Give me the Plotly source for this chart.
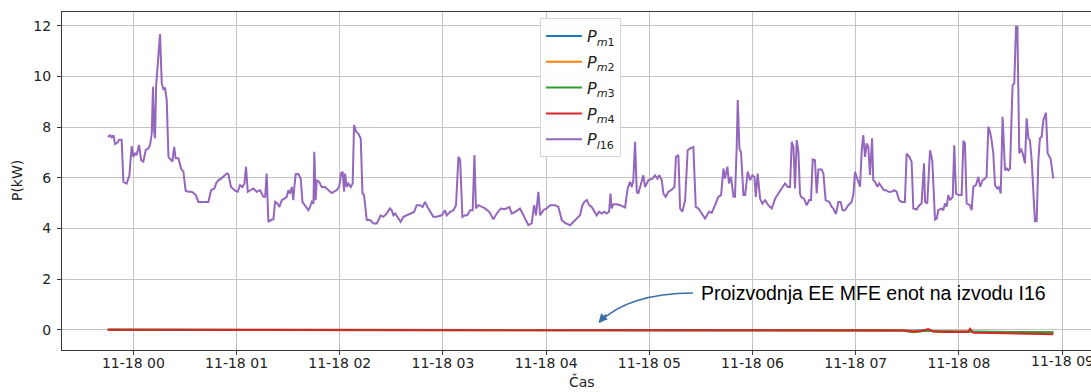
import datetime as dt
import plotly.graph_objects as go

# ---- data (minutes relative to 11-18 00:00, values in kW) ----
p_i16_min = [
    -14.9, -13.5, -12.6, -11.6, -10.6, -9.1, -8.3, -6.8, -5.8, -3.9, -2.3, -1.0, 0.0, 1.0, 1.9, 3.3, 4.5, 5.8,
    7.2, 8.7, 9.7, 10.7, 11.4, 12.0, 12.6, 13.2, 14.2, 15.5, 16.5, 17.5, 18.4, 19.4, 20.4, 21.9, 22.7, 23.7,
    24.6, 26.2, 27.7, 29.1, 30.4, 32.0, 33.9, 35.3, 36.4, 37.8, 40.7, 43.6, 45.2, 47.1, 48.1, 49.4, 51.0, 52.3,
    54.3, 55.2, 56.8, 59.1, 60.7, 62.0, 63.4, 64.6, 65.5, 66.5, 67.8, 69.8, 71.7, 73.7, 75.6, 76.6, 77.5, 78.5,
    80.4, 81.4, 82.4, 83.9, 84.9, 86.3, 87.8, 89.2, 90.1, 91.1, 92.1, 93.0, 93.6, 94.4, 95.9, 97.3, 98.3, 99.8,
    101.8, 102.7, 103.7, 104.7, 105.2, 106.0, 106.6, 108.0, 109.5, 111.4, 113.4, 115.3,
    118.2, 119.6, 120.8, 121.7, 122.5, 123.1, 124.0, 125.0, 126.4, 127.5, 128.3, 129.5, 130.8, 132.2, 133.2,
    134.1, 135.7, 137.6, 139.6, 141.5, 143.8, 145.4, 147.3, 149.2, 150.2, 151.2, 152.2, 154.1, 155.4, 157.0,
    158.9, 161.8, 163.2, 164.7, 166.7, 168.2, 169.6, 171.0, 172.5, 174.4, 176.4, 179.3, 181.2, 182.2, 184.1,
    186.1, 187.6, 189.0, 190.0, 191.3, 192.9, 194.2, 195.8, 197.3, 198.3, 199.2, 200.6, 202.5, 204.5, 207.0,
    209.3, 211.3, 213.6, 216.1, 218.6, 220.0, 221.9, 224.8, 226.8, 229.7, 231.6, 233.0, 234.1, 235.5, 236.5,
    238.4, 240.3, 242.3, 245.2, 247.1, 249.1,
    251.0, 253.9, 255.8, 257.8, 259.7, 261.1, 262.2, 263.6, 265.0, 266.5, 268.1, 269.4, 270.8, 272.3, 273.9,
    275.2, 276.6, 277.4, 278.1, 279.1, 281.0, 283.0, 285.9, 287.4, 288.8, 289.8, 290.7, 291.7, 292.7, 293.6,
    295.2, 296.5, 297.5, 299.5, 301.8, 303.3, 304.7, 305.8, 307.2, 308.2, 309.5, 311.1, 312.6, 314.6, 315.5,
    316.9, 317.9, 319.2, 320.8, 322.3, 323.7, 325.6, 327.0, 328.5, 330.5, 332.4, 334.7, 336.3, 338.2, 340.1,
    341.7, 343.1, 344.0, 345.4, 346.3, 347.5, 348.9, 349.8, 350.8, 351.4, 352.4, 353.3, 354.7, 355.7, 357.2,
    358.6, 359.9, 361.1, 361.9, 363.0, 364.4, 365.7, 367.3, 369.2, 371.2, 373.1, 375.0, 377.0, 378.9, 380.5,
    381.8, 382.8, 383.8, 384.7, 385.7, 386.7, 387.6,
    388.2, 389.9, 391.5, 393.0, 394.0, 395.0, 396.3, 397.3, 398.3, 400.2, 401.2, 402.5, 404.7, 406.0, 407.0,
    408.5, 409.9, 411.2, 412.4, 413.8, 415.7, 417.6, 418.6, 419.6, 420.9, 422.5, 423.5, 424.4, 425.4, 426.4,
    427.3, 428.3, 429.5, 430.2, 431.2, 432.6, 433.7, 435.1, 436.4, 437.6, 439.0, 440.9, 442.3, 443.8, 445.2,
    446.7, 448.6, 449.6, 451.2, 452.5, 453.5, 455.4, 457.0, 458.3, 459.7, 460.3, 461.6, 463.2, 464.5, 466.1,
    467.1, 468.0, 470.0, 470.9, 471.9, 472.9, 473.8, 474.8, 476.4, 477.3, 478.3, 479.7, 481.6, 482.6, 483.5,
    484.5, 486.4, 487.4, 488.4, 489.9, 491.3, 492.3, 493.8, 495.2, 496.1, 497.1, 498.1, 499.0, 500.0, 501.0,
    502.3, 503.3, 504.3, 505.4, 506.8, 507.8, 508.7, 509.7, 511.2, 512.2, 513.2, 514.0, 515.1, 516.1, 517.1,
    518.4, 519.4, 520.4, 521.3, 522.3, 523.3, 524.2, 525.2, 526.2, 527.1, 528.1, 529.1, 530.6, 531.6, 533.3,
    534.9,
]
p_i16_kw = [
    7.62, 7.68, 7.60, 7.68, 7.33, 7.40, 7.50, 7.50, 5.84, 5.77, 6.10, 7.25, 6.83, 6.96, 6.90, 7.30, 6.70, 6.64,
    7.10, 7.16, 7.30, 7.75, 9.60, 7.90, 7.56, 9.60, 10.50, 11.68, 9.73, 9.50, 9.56, 9.07, 6.83, 6.70, 6.64, 7.22,
    6.77, 6.77, 6.37, 6.24, 5.49, 5.45, 5.45, 5.38, 5.31, 5.05, 5.05, 5.05, 5.51, 5.58, 5.78, 5.91, 5.97, 6.04,
    6.17, 6.15, 5.64, 5.49, 5.45, 5.71, 5.64, 5.78, 6.44, 5.45, 5.51, 5.58, 5.45, 5.51, 5.25, 5.25, 6.17, 4.26,
    4.35, 4.35, 5.05, 4.98, 4.85, 5.12, 5.18, 5.25, 5.51, 5.38, 5.64, 5.12, 5.64, 6.15, 6.15, 5.97, 5.05, 4.92,
    4.72, 4.85, 5.05, 4.98, 7.03, 5.12, 5.91, 5.84, 5.64, 5.64, 5.51, 5.40,
    5.51, 5.64, 6.17, 6.24, 5.45, 6.17, 5.64, 5.78, 5.64, 5.78, 8.08, 7.82, 7.75, 7.55, 5.38,
    5.32, 4.33, 4.33, 4.20, 4.20, 4.52, 4.46, 4.59, 4.79, 4.72, 4.52, 4.59, 4.39, 4.26, 4.46,
    4.52, 4.59, 4.65, 4.92, 4.92, 4.85, 5.05, 4.85, 4.65, 4.46, 4.46, 4.52, 4.72, 4.52, 4.65,
    4.72, 4.92, 6.83, 6.70, 4.46, 4.52, 4.52, 4.72, 4.72, 6.90, 4.79, 4.92, 4.85, 4.79, 4.65,
    4.36, 4.59, 4.79, 4.76, 4.85, 4.59, 4.65, 4.79, 4.52, 4.13, 4.20, 4.92, 4.52, 5.45, 4.52,
    4.72, 4.79, 4.92, 4.92, 4.85, 4.33,
    4.22, 4.13, 4.26, 4.39, 4.52, 4.92, 5.05, 5.12, 4.92, 4.85, 4.66, 4.52, 4.66, 4.59, 4.66,
    4.59, 4.66, 5.38, 4.79, 4.96, 4.96, 4.92, 4.83, 5.58, 5.84, 5.64, 5.91, 7.42, 5.45, 5.38,
    5.78, 6.10, 5.64, 5.91, 5.97, 6.10, 5.97, 6.10, 5.91, 5.38, 5.25, 5.45, 5.51, 5.64, 6.83,
    6.90, 4.79, 4.66, 5.12, 7.09, 7.16, 7.22, 4.85, 4.79, 4.59, 4.39, 4.66, 4.62, 4.92, 5.25,
    5.32, 6.37, 5.97, 6.44, 5.78, 6.04, 5.25, 5.25, 7.22, 9.07, 7.16, 7.02, 5.32, 5.32, 6.24,
    5.91, 6.10, 6.04, 5.25, 6.17, 5.18, 4.98, 5.12, 4.92, 4.79, 5.18, 5.38, 5.58, 5.78, 5.64,
    5.64, 7.42, 7.22, 5.58, 7.49, 7.02, 5.38,
    5.25, 5.18, 4.92, 5.12, 5.12, 6.73, 6.70, 5.38, 6.33, 6.33, 6.17, 5.12, 5.05, 4.86, 4.79,
    4.57, 5.05, 5.05, 4.72, 4.72, 4.92, 5.05, 5.32, 6.24, 5.97, 5.65, 7.09, 7.69, 6.83, 7.36,
    7.23, 6.11, 7.56, 5.91, 5.84, 5.65, 5.78, 5.65, 5.51, 5.51, 5.45, 5.45, 5.51, 5.45, 5.12,
    5.05, 5.05, 6.96, 6.83, 6.63, 4.79, 4.75, 4.92, 4.99, 6.57, 5.05, 4.99, 7.09, 6.70, 4.35,
    4.39, 4.72, 4.79, 4.72, 4.99, 4.86, 5.32, 5.12, 5.25, 7.29, 5.38, 5.32, 5.32, 7.46, 7.36,
    4.99, 4.92, 4.72, 5.65, 5.71, 6.04, 5.65, 5.91, 5.97, 6.04, 8.02, 7.82, 7.49, 6.96, 5.71,
    5.58, 5.65, 5.38, 8.41, 6.30, 6.37, 6.30, 6.37, 9.66, 9.73, 11.97, 11.97, 6.96, 7.16, 6.96,
    6.57, 8.35, 7.56, 7.49, 6.70, 5.25, 4.29, 4.29, 6.70, 7.56, 7.62, 8.28, 8.57, 6.96, 6.76,
    5.97,
]

pm_min = [-14.9, 430.0, 440.0, 447.0, 453.5, 458.0, 462.2, 465.1, 472.9, 480.0, 485.5, 486.5, 488.4, 500.0, 511.6, 523.0, 534.9]
pm1_kw = [0.0, 0.0, 0.0, -0.02, -0.04, -0.03, -0.02, -0.05, -0.06, -0.06, -0.07, -0.05, -0.08, -0.08, -0.09, -0.09, -0.10]
pm2_kw = [0.0, 0.0, 0.0, -0.02, -0.05, -0.04, -0.03, -0.05, -0.07, -0.07, -0.08, -0.06, -0.09, -0.09, -0.10, -0.11, -0.12]
pm3_kw = [0.0, 0.0, 0.0, -0.03, -0.10, -0.07, -0.03, -0.06, -0.08, -0.08, -0.08, -0.05, -0.09, -0.09, -0.10, -0.10, -0.11]
pm4_kw = [0.0, 0.0, 0.0, -0.03, -0.07, -0.05, 0.03, -0.07, -0.09, -0.09, -0.09, 0.04, -0.12, -0.13, -0.14, -0.16, -0.18]

series_names = ["<i>P</i><sub><i>m</i>1</sub>", "<i>P</i><sub><i>m</i>2</sub>",
                "<i>P</i><sub><i>m</i>3</sub>", "<i>P</i><sub><i>m</i>4</sub>",
                "<i>P</i><sub><i>l</i>16</sub>"]
colors = ["#1f77b4", "#ff7f0e", "#2ca02c", "#d62728", "#9467bd"]

y_ticks = [0, 2, 4, 6, 8, 10, 12]
last_tick_label = "11-18 09"
annotation_text = "Proizvodnja EE MFE enot na izvodu I16"

base = dt.datetime(2019, 11, 18)


def to_time(mins):
    return [base + dt.timedelta(minutes=m) for m in mins]


fig = go.Figure()
pm_series = [pm1_kw, pm2_kw, pm3_kw, pm4_kw]
for i, vals in enumerate(pm_series):
    fig.add_trace(go.Scatter(x=to_time(pm_min), y=vals, mode="lines", name=series_names[i],
                             legendgroup=f"g{i}",
                             line=dict(color=colors[i], width=2)))
fig.add_trace(go.Scatter(x=to_time(p_i16_min), y=p_i16_kw, mode="lines", name=series_names[4],
                         legendgroup="g4",
                         line=dict(color=colors[4], width=2)))

axis_color = "#3a3a3a"
grid_color = "#c4c4c4"
text_color = "#222222"
tick_font = dict(family="DejaVu Sans", size=14, color=text_color)

fig.update_layout(
    width=1091, height=392,
    margin=dict(l=62, r=0, t=12, b=42),
    paper_bgcolor="white", plot_bgcolor="white",
    showlegend=True,
    legend=dict(x=0.4645, y=0.982, xanchor="left", yanchor="top",
                bgcolor="rgba(255,255,255,0.92)", bordercolor="#d6d6d6", borderwidth=1,
                font=dict(family="DejaVu Sans", size=16, color=text_color),
                tracegroupgap=2, itemwidth=36),
    xaxis=dict(
        type="date",
        range=[base - dt.timedelta(minutes=41.5), base + dt.timedelta(minutes=556.8)],
        tick0=base, dtick=3600000, tickformat="%m-%d %H",
        showgrid=True, gridcolor=grid_color, gridwidth=1,
        showline=True, linecolor=axis_color, linewidth=1, mirror=True,
        ticks="outside", ticklen=4, tickcolor=axis_color,
        tickfont=tick_font, zeroline=False, ticklabelstandoff=-4,
    ),
    yaxis=dict(
        range=[-0.8, 12.55],
        tickvals=y_ticks,
        showgrid=True, gridcolor=grid_color, gridwidth=1,
        showline=True, linecolor=axis_color, linewidth=1, mirror=False,
        ticks="outside", ticklen=4, tickcolor=axis_color,
        tickfont=tick_font, zeroline=False, ticklabelstandoff=3,
    ),
)

# last x tick label, partly cut off by the right edge as in the reference
fig.add_annotation(text=last_tick_label, xref="x", yref="paper",
                   x=base + dt.timedelta(hours=9), y=-0.0325,
                   xanchor="center", yanchor="middle", showarrow=False,
                   font=tick_font)

# axis titles
fig.add_annotation(text="Čas", xref="paper", yref="paper", x=0.505, y=-0.092,
                   xanchor="center", yanchor="middle", showarrow=False,
                   font=dict(family="DejaVu Sans", size=14, color=text_color))
fig.add_annotation(text="P(kW)", xref="paper", yref="paper", x=-0.0437, y=0.5,
                   xanchor="center", yanchor="middle", showarrow=False, textangle=-90,
                   font=dict(family="DejaVu Sans", size=14, color=text_color))

# annotation text
arrow_color = "#3a6ea5"
fig.add_annotation(text=annotation_text, xref="paper", yref="paper", x=0.619, y=0.1686,
                   xanchor="left", yanchor="middle", showarrow=False,
                   font=dict(family="Liberation Sans, Arial", size=19.5, color="#000000"))

# curved arrow body
fig.add_shape(type="path", xref="paper", yref="paper",
              path="M 0.6132 0.1686 Q 0.5500 0.1672 0.5225 0.0820",
              line=dict(color=arrow_color, width=1.5))
# arrow head
fig.add_annotation(x=base + dt.timedelta(minutes=270.4), y=0.27, xref="x", yref="y",
                   text="", showarrow=True, ax=9, ay=-10, axref="pixel", ayref="pixel",
                   arrowhead=2, arrowsize=1.2, arrowwidth=1.5, arrowcolor=arrow_color)

fig.write_html("out.html", config={"displayModeBar": False},
               post_script="document.body.style.margin='0';document.body.style.padding='0';"
                           "document.body.style.overflow='hidden';")
